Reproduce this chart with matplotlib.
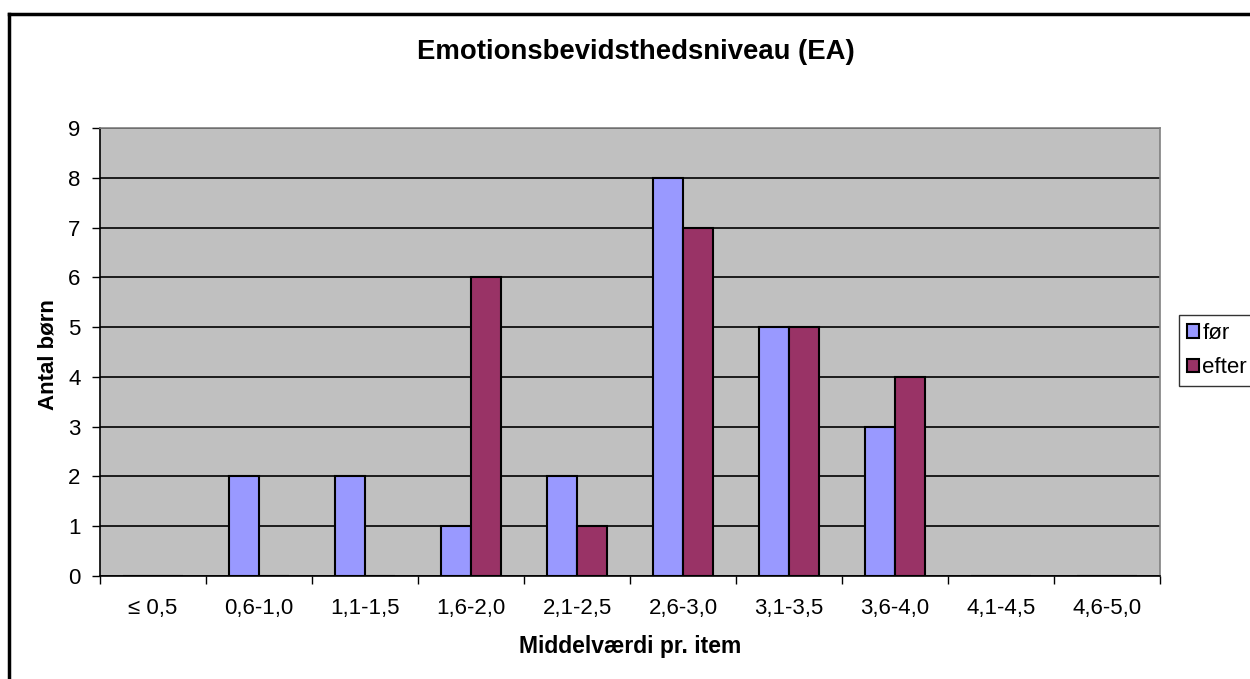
import numpy as np
import matplotlib.pyplot as plt
from matplotlib.lines import Line2D

plt.rcParams['font.family'] = ['Liberation Sans', 'DejaVu Sans']

categories = ['≤ 0,5', '0,6-1,0', '1,1-1,5', '1,6-2,0', '2,1-2,5',
              '2,6-3,0', '3,1-3,5', '3,6-4,0', '4,1-4,5', '4,6-5,0']
foer = [0, 2, 2, 1, 2, 8, 5, 3, 0, 0]
efter = [0, 0, 0, 6, 1, 7, 5, 4, 0, 0]

fig = plt.figure(figsize=(12.5, 6.79), dpi=100)
ax = fig.add_axes([100/1250, 1 - 576/679, 1060/1250, 448/679])
ax.set_facecolor('#c0c0c0')

x = np.arange(len(categories))
w = 1 / 3.5
ax.bar(x - w/2, foer, w, color='#9999ff', edgecolor='black', linewidth=1.5, label='før', zorder=3)
ax.bar(x + w/2, efter, w, color='#993366', edgecolor='black', linewidth=1.5, label='efter', zorder=3)

ax.set_xlim(-0.5, len(categories) - 0.5)
ax.set_ylim(0, 9)
ax.set_yticks(range(10))
ax.yaxis.grid(True, color='black', linewidth=1.2, zorder=1)
ax.set_axisbelow(True)

# boundaries as major ticks, labels at centres
ax.set_xticks(np.arange(-0.5, len(categories), 1))
ax.set_xticklabels([])
ax.set_xticks(x, minor=True)
ax.set_xticklabels(categories, minor=True)
ax.tick_params(axis='x', which='major', length=6, width=1, direction='out')
ax.tick_params(axis='x', which='minor', length=0, pad=16, labelsize=16)
ax.tick_params(axis='y', length=6, width=1, direction='out', pad=8, labelsize=16)

for s in ['top', 'right']:
    ax.spines[s].set_color('#808080')
    ax.spines[s].set_linewidth(1.2)
for s in ['left', 'bottom']:
    ax.spines[s].set_color('black')
    ax.spines[s].set_linewidth(1.2)

fig.text(636/1250, 1 - 52/679, 'Emotionsbevidsthedsniveau (EA)', ha='center', va='center',
         fontsize=19.8, fontweight='bold')
fig.text(630/1250, 1 - 647/679, 'Middelværdi pr. item', ha='center', va='center',
         fontsize=16.5, fontweight='bold')
fig.text(48/1250, 1 - 355/679, 'Antal børn', ha='center', va='center', rotation=90,
         fontsize=16, fontweight='bold')

leg = ax.legend(loc='upper left', bbox_to_anchor=(1179/1250, 1 - 315/679),
                bbox_transform=fig.transFigure, fontsize=16, frameon=True, fancybox=False,
                handlelength=0.55, handleheight=0.55, handletextpad=0.15, borderpad=0.35,
                labelspacing=0.6, borderaxespad=0)
leg.get_frame().set_edgecolor('black')
leg.get_frame().set_linewidth(1)

# outer frame (left and top visible)
fig.add_artist(Line2D([9/1250, 9/1250], [0, 1 - 14/679], color='black', linewidth=2.5))
fig.add_artist(Line2D([9/1250, 1], [1 - 14/679, 1 - 14/679], color='black', linewidth=2.5))

fig.savefig('out.png', dpi=100)
